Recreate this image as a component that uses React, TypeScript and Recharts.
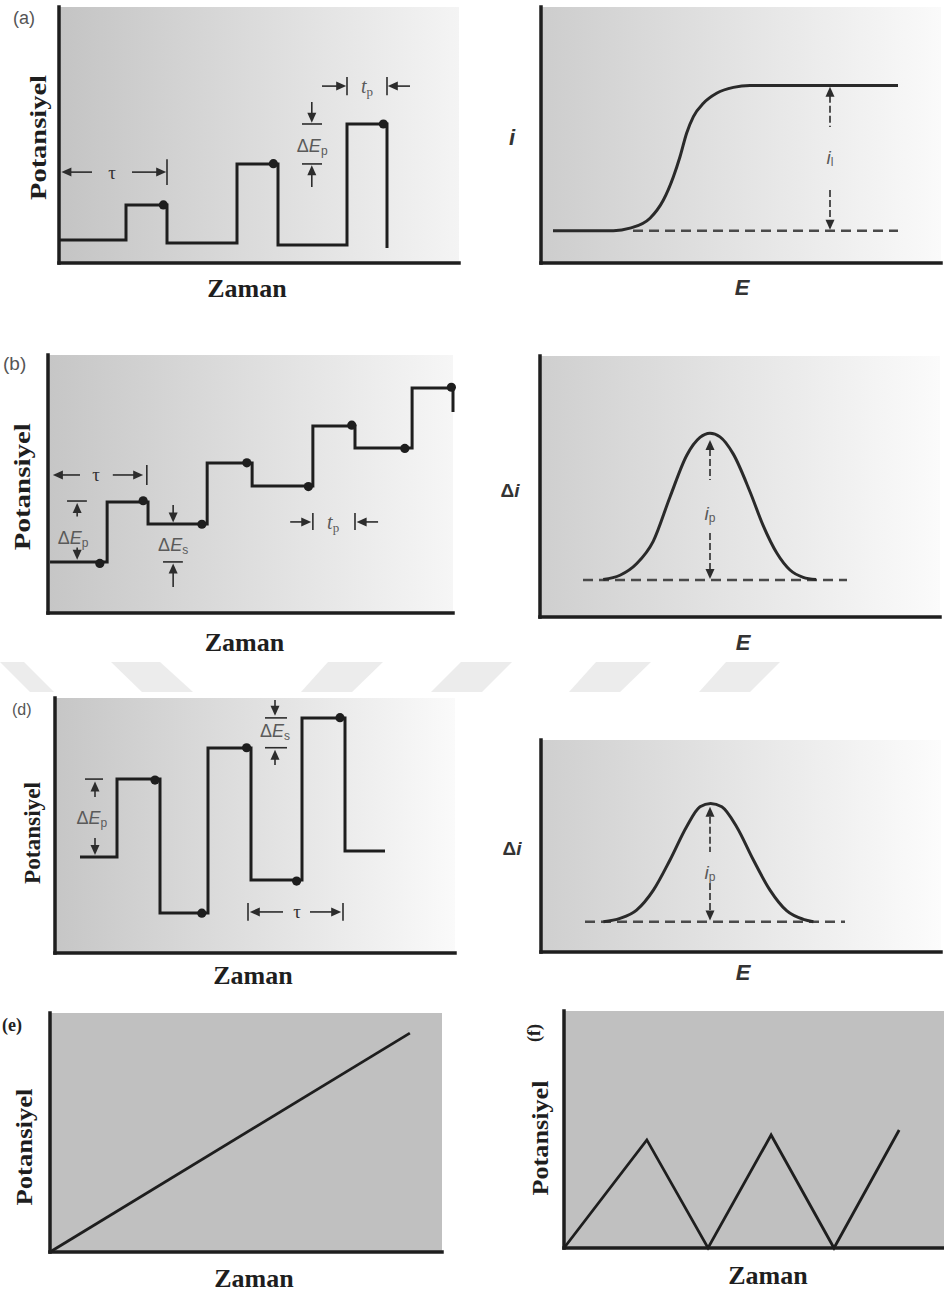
import React from "react";
import { ComposedChart, Line, Scatter, XAxis, YAxis, CartesianGrid, ReferenceLine } from "recharts";

const SERIF = '"Liberation Serif", "Times New Roman", serif';
const SANS = '"Liberation Sans", Arial, sans-serif';
const INK = "#1e1e1e";
const NOTE = "#5a5a5a";
const ARROW = "#2c2c2c";

type Pt = { x: number; y: number };
type Seg = { x1: number; y1: number; x2: number; y2: number };
type Head = Pt & { dir: "up" | "down" | "left" | "right" };
type Note = Pt & { kind: string };

// (a) normal pulse waveform + sampling points
const normalPulse: Pt[] = [
  { x: 0, y: 9 }, { x: 16.75, y: 9 }, { x: 16.75, y: 22.7 }, { x: 27, y: 22.7 }, { x: 27, y: 7.8 },
  { x: 44.5, y: 7.8 }, { x: 44.5, y: 38.7 }, { x: 54.75, y: 38.7 }, { x: 54.75, y: 7 },
  { x: 72, y: 7 }, { x: 72, y: 54.3 }, { x: 82, y: 54.3 }, { x: 82, y: 5.9 },
];
const normalSamples: Pt[] = [{ x: 26.1, y: 22.7 }, { x: 53.6, y: 38.8 }, { x: 81.1, y: 54.3 }];
const normalArrows: Seg[] = [
  { x1: 2.6, y1: 35.5, x2: 8.25, y2: 35.5 },
  { x1: 18.25, y1: 35.5, x2: 24.5, y2: 35.5 },
  { x1: 27, y1: 40.5, x2: 27, y2: 30.5 },
  { x1: 65.75, y1: 69.1, x2: 69.6, y2: 69.1 },
  { x1: 72, y1: 72.7, x2: 72, y2: 65.5 },
  { x1: 82, y1: 72.7, x2: 82, y2: 65.5 },
  { x1: 84.4, y1: 69.1, x2: 87.75, y2: 69.1 },
  { x1: 63.2, y1: 62.9, x2: 63.2, y2: 58.3 },
  { x1: 60.75, y1: 54.3, x2: 65.75, y2: 54.3 },
  { x1: 60.75, y1: 38.7, x2: 65.75, y2: 38.7 },
  { x1: 63.2, y1: 34.7, x2: 63.2, y2: 29.7 },
];
const normalHeads: Head[] = [
  { x: 0.6, y: 35.5, dir: "left" }, { x: 26.8, y: 35.5, dir: "right" },
  { x: 71.8, y: 69.1, dir: "right" }, { x: 82.2, y: 69.1, dir: "left" },
  { x: 63.2, y: 54.8, dir: "down" }, { x: 63.2, y: 38.2, dir: "up" },
];
const normalNotes: Note[] = [
  { x: 13.25, y: 35.5, kind: "tau" }, { x: 77, y: 69.1, kind: "tp" }, { x: 63.3, y: 45.7, kind: "dEp" },
];

// (a) polarogram
const polarogram: Pt[] = [
  { x: 3, y: 12.6 }, { x: 18.1, y: 12.6 }, { x: 22.25, y: 13.6 }, { x: 27.25, y: 17.5 }, { x: 30.6, y: 24.6 },
  { x: 33.1, y: 33.7 }, { x: 34.75, y: 41.5 }, { x: 36.4, y: 50.7 }, { x: 38.1, y: 57.2 }, { x: 40.6, y: 62.4 },
  { x: 43.9, y: 66.3 }, { x: 48.1, y: 68.6 }, { x: 52.25, y: 69.3 }, { x: 89.25, y: 69.3 },
];
const polarBase: Pt[] = [{ x: 23, y: 12.6 }, { x: 89.25, y: 12.6 }];
const polarArrows: Seg[] = [
  { x1: 72.25, y1: 65.3, x2: 72.25, y2: 53.1 },
  { x1: 72.25, y1: 28.5, x2: 72.25, y2: 16.5 },
];
const polarHeads: Head[] = [{ x: 72.25, y: 68.8, dir: "up" }, { x: 72.25, y: 13, dir: "down" }];
const polarNotes: Note[] = [{ x: 72.25, y: 41.4, kind: "il" }];

// (b) differential pulse staircase
const diffPulse: Pt[] = [
  { x: 0.5, y: 19.8 }, { x: 14.6, y: 19.8 }, { x: 14.6, y: 43 }, { x: 24.7, y: 43 }, { x: 24.7, y: 34.5 },
  { x: 39.3, y: 34.5 }, { x: 39.3, y: 58.1 }, { x: 50.4, y: 58.1 }, { x: 50.4, y: 49.2 }, { x: 65.4, y: 49.2 },
  { x: 65.4, y: 72.5 }, { x: 75.8, y: 72.5 }, { x: 75.8, y: 64 }, { x: 89.9, y: 64 }, { x: 89.9, y: 87.2 },
  { x: 100, y: 87.2 }, { x: 100, y: 77.9 },
];
const diffSamples: Pt[] = [
  { x: 12.8, y: 19.2 }, { x: 23.5, y: 43.5 }, { x: 38, y: 34.4 }, { x: 49.1, y: 58.2 },
  { x: 64.3, y: 49 }, { x: 75, y: 72.8 }, { x: 88.1, y: 63.8 }, { x: 99.6, y: 87.5 },
];
const diffArrows: Seg[] = [
  { x1: 3.4, y1: 53.5, x2: 7.9, y2: 53.5 },
  { x1: 16, y1: 53.5, x2: 21.3, y2: 53.5 },
  { x1: 24.4, y1: 57.4, x2: 24.4, y2: 49.6 },
  { x1: 4.7, y1: 43.4, x2: 9.6, y2: 43.4 },
  { x1: 7.2, y1: 39.1, x2: 7.2, y2: 37.4 },
  { x1: 7.2, y1: 24.1, x2: 7.2, y2: 25.4 },
  { x1: 30.9, y1: 38.6, x2: 30.9, y2: 41.9 },
  { x1: 28.4, y1: 19.8, x2: 33.3, y2: 19.8 },
  { x1: 30.9, y1: 15.7, x2: 30.9, y2: 10.1 },
  { x1: 59.8, y1: 35.3, x2: 62.8, y2: 35.3 },
  { x1: 65.4, y1: 38.8, x2: 65.4, y2: 32.2 },
  { x1: 75.8, y1: 38.8, x2: 75.8, y2: 32.2 },
  { x1: 78.4, y1: 35.3, x2: 81.5, y2: 35.3 },
];
const diffHeads: Head[] = [
  { x: 1.2, y: 53.5, dir: "left" }, { x: 23.5, y: 53.5, dir: "right" },
  { x: 7.2, y: 42.6, dir: "up" }, { x: 7.2, y: 20.6, dir: "down" },
  { x: 30.9, y: 35.1, dir: "down" }, { x: 30.9, y: 19.2, dir: "up" },
  { x: 65, y: 35.3, dir: "right" }, { x: 76.2, y: 35.3, dir: "left" },
];
const diffNotes: Note[] = [
  { x: 11.9, y: 53.5, kind: "tau" }, { x: 6.2, y: 29, kind: "dEp" },
  { x: 30.9, y: 26.4, kind: "dEs" }, { x: 70.4, y: 35.3, kind: "tp" },
];

// (b) differential pulse peak
const dpvPeak: Pt[] = [
  { x: 15.8, y: 14.4 }, { x: 20, y: 16 }, { x: 24.2, y: 20.5 }, { x: 28.3, y: 29 }, { x: 32.5, y: 46 },
  { x: 36.7, y: 62 }, { x: 40, y: 68.8 }, { x: 42.5, y: 70.4 }, { x: 45, y: 69 }, { x: 48.3, y: 62.5 },
  { x: 52.5, y: 48 }, { x: 55.8, y: 35 }, { x: 59.2, y: 24.5 }, { x: 62.5, y: 18 }, { x: 65.8, y: 15.2 },
  { x: 69, y: 14.4 },
];
const dpvBase: Pt[] = [{ x: 10.75, y: 14.2 }, { x: 76.75, y: 14.2 }];
const dpvArrows: Seg[] = [
  { x1: 42.5, y1: 64.4, x2: 42.5, y2: 52.5 },
  { x1: 42.5, y1: 32.2, x2: 42.5, y2: 18.4 },
];
const dpvHeads: Head[] = [{ x: 42.5, y: 67.8, dir: "up" }, { x: 42.5, y: 14.6, dir: "down" }];
const dpvNotes: Note[] = [{ x: 42.5, y: 39.8, kind: "ip" }];

// (d) square wave
const squareWave: Pt[] = [
  { x: 6.25, y: 37.6 }, { x: 15.5, y: 37.6 }, { x: 15.5, y: 68.2 }, { x: 26.25, y: 68.2 }, { x: 26.25, y: 15.7 },
  { x: 38.25, y: 15.7 }, { x: 38.25, y: 80.4 }, { x: 49, y: 80.4 }, { x: 49, y: 28.6 }, { x: 61.75, y: 28.6 },
  { x: 61.75, y: 92.2 }, { x: 72.5, y: 92.2 }, { x: 72.5, y: 40 }, { x: 82.5, y: 40 },
];
const squareSamples: Pt[] = [
  { x: 25, y: 67.8 }, { x: 36.7, y: 15.6 }, { x: 47.9, y: 80.5 }, { x: 60.4, y: 28.2 }, { x: 71.25, y: 92.3 },
];
const squareArrows: Seg[] = [
  { x1: 7.5, y1: 68.2, x2: 12, y2: 68.2 },
  { x1: 10, y1: 63.8, x2: 10, y2: 61.2 },
  { x1: 10, y1: 45.1, x2: 10, y2: 41.9 },
  { x1: 55, y1: 99.2, x2: 55, y2: 96.5 },
  { x1: 52.5, y1: 92.2, x2: 58, y2: 92.2 },
  { x1: 52.5, y1: 80.5, x2: 58, y2: 80.5 },
  { x1: 55, y1: 76.2, x2: 55, y2: 73.7 },
  { x1: 48.25, y1: 19.6, x2: 48.25, y2: 12.6 },
  { x1: 72, y1: 19.6, x2: 72, y2: 12.6 },
  { x1: 50.95, y1: 16.1, x2: 57, y2: 16.1 },
  { x1: 63.75, y1: 16.1, x2: 69.3, y2: 16.1 },
];
const squareHeads: Head[] = [
  { x: 10, y: 67.3, dir: "up" }, { x: 10, y: 38.4, dir: "down" },
  { x: 55, y: 93, dir: "down" }, { x: 55, y: 79.7, dir: "up" },
  { x: 48.7, y: 16.1, dir: "left" }, { x: 71.55, y: 16.1, dir: "right" },
];
const squareNotes: Note[] = [
  { x: 9.2, y: 52.9, kind: "dEp" }, { x: 55, y: 87.2, kind: "dEs" }, { x: 60.5, y: 16.1, kind: "tau" },
];

// (d) square wave peak
const swvPeak: Pt[] = [
  { x: 15.6, y: 14.3 }, { x: 19.75, y: 15.9 }, { x: 23.9, y: 19.8 }, { x: 28.1, y: 29.2 }, { x: 32.25, y: 43.4 },
  { x: 36.4, y: 59.1 }, { x: 39.75, y: 68.5 }, { x: 42.4, y: 70.1 }, { x: 45.2, y: 68.5 }, { x: 48.9, y: 59.1 },
  { x: 53.1, y: 43.4 }, { x: 57.25, y: 29.2 }, { x: 61.4, y: 19.5 }, { x: 65.6, y: 15.4 }, { x: 68.1, y: 14.3 },
];
const swvBase: Pt[] = [{ x: 11, y: 14.3 }, { x: 76, y: 14.3 }];
const swvArrows: Seg[] = [
  { x1: 42.25, y1: 63.8, x2: 42.25, y2: 47.2 },
  { x1: 42.25, y1: 32.5, x2: 42.25, y2: 19.8 },
];
const swvHeads: Head[] = [{ x: 42.25, y: 68.5, dir: "up" }, { x: 42.25, y: 14.8, dir: "down" }];
const swvNotes: Note[] = [{ x: 42.25, y: 37.7, kind: "ip" }];

// (e) linear sweep, (f) cyclic sweep
const linearRamp: Pt[] = [{ x: 0, y: 0 }, { x: 91.8, y: 91.6 }];
const cyclicRamp: Pt[] = [
  { x: 0, y: 0 }, { x: 21.8, y: 45.6 }, { x: 37.9, y: 0 }, { x: 54.5, y: 47.7 }, { x: 71.05, y: 0 }, { x: 88.2, y: 49.8 },
];

const WATERMARK = [
  "0,0 24,0 54,30 30,30", "111,0 160,0 193,30 142,30", "328,0 383,0 352,30 301,30",
  "461,0 512,0 482,30 431,30", "596,0 651,0 620,30 569,30", "726,0 780,0 750,30 699,30",
];

const AXIS_LINE = { stroke: INK, strokeWidth: 3.5, strokeLinecap: "square" as const };

type Draw = (x: number, y: number) => React.ReactElement;
const atY = (draw: Draw, cx: number, dy: number) => (p: any) => {
  const vb = p?.viewBox ?? { x: 0, y: 0, width: 0, height: 0 };
  return draw(vb.x + cx, vb.y + vb.height / 2 + dy);
};
const atX = (draw: Draw, dx: number, dy: number) => (p: any) => {
  const vb = p?.viewBox ?? { x: 0, y: 0, width: 0, height: 0 };
  return draw(vb.x + vb.width / 2 + dx, vb.y + dy);
};

const potansiyel = (len: number): Draw => (x, y) => (
  <text x={x} y={y} transform={`rotate(-90 ${x} ${y})`} textAnchor="middle" dominantBaseline="central"
    fontFamily={SERIF} fontWeight="bold" fontSize={24} fill={INK} textLength={len} lengthAdjust="spacingAndGlyphs">
    Potansiyel
  </text>
);
const zaman: Draw = (x, y) => (
  <text x={x} y={y} textAnchor="middle" dominantBaseline="central" fontFamily={SERIF} fontWeight="bold" fontSize={26} fill={INK}>
    Zaman
  </text>
);
const eTitle: Draw = (x, y) => (
  <text x={x} y={y} textAnchor="middle" dominantBaseline="central" fontFamily={SANS} fontStyle="italic" fontWeight="bold" fontSize={22} fill="#333">
    E
  </text>
);
const iTitle: Draw = (x, y) => (
  <text x={x} y={y} textAnchor="middle" dominantBaseline="central" fontFamily={SANS} fontStyle="italic" fontWeight="bold" fontSize={22} fill="#333">
    i
  </text>
);
const diTitle: Draw = (x, y) => (
  <text x={x} y={y} textAnchor="middle" dominantBaseline="central" fontFamily={SANS} fontWeight="bold" fontSize={19} fill="#333">
    Δ<tspan fontStyle="italic" fill="#333">i</tspan>
  </text>
);

const arrowHead = (p: any) => {
  const cx = p.cx, cy = p.cy;
  const dir = p.payload?.dir ?? p.dir;
  const L = 10, W = 4.5;
  const pts =
    dir === "up" ? [[cx, cy], [cx - W, cy + L], [cx + W, cy + L]]
    : dir === "down" ? [[cx, cy], [cx - W, cy - L], [cx + W, cy - L]]
    : dir === "left" ? [[cx, cy], [cx + L, cy - W], [cx + L, cy + W]]
    : [[cx, cy], [cx - L, cy - W], [cx - L, cy + W]];
  return <polygon points={pts.map((q) => q.join(",")).join(" ")} fill={ARROW} />;
};

const sampleDot = (p: any) => <circle cx={p.cx} cy={p.cy} r={4.6} fill={INK} />;

const noteText = (p: any) => {
  const kind = p.payload?.kind ?? p.kind;
  const base = { x: p.cx, y: p.cy, textAnchor: "middle" as const, dominantBaseline: "central" as const, fill: NOTE };
  switch (kind) {
    case "tau":
      return <text {...base} fontFamily={SERIF} fontSize={19} fill="#333">τ</text>;
    case "tp":
      return (
        <text {...base} fontFamily={SERIF} fontSize={20} fontStyle="italic">
          t<tspan fontSize={13} dy={5} fontStyle="normal" fill={NOTE}>p</tspan>
        </text>
      );
    case "dEp":
    case "dEs":
      return (
        <text {...base} fontFamily={SANS} fontSize={18}>
          Δ<tspan fontStyle="italic" fill={NOTE}>E</tspan>
          <tspan fontSize={12} dy={5} fill={NOTE}>{kind === "dEp" ? "p" : "s"}</tspan>
        </text>
      );
    default:
      return (
        <text {...base} fontFamily={SANS} fontSize={19}>
          <tspan fontStyle="italic" fill={NOTE}>i</tspan>
          <tspan fontSize={12} dy={5} fill={NOTE}>{kind === "ip" ? "p" : "l"}</tspan>
        </text>
      );
  }
};

const drawSegs = (segs: Seg[], key: string, dash?: string) =>
  segs.map((s, i) => (
    <ReferenceLine key={`${key}${i}`} segment={[{ x: s.x1, y: s.y1 }, { x: s.x2, y: s.y2 }]}
      stroke={ARROW} strokeWidth={1.6} strokeDasharray={dash} ifOverflow="visible" />
  ));

type FrameProps = {
  id: string; left: number; top: number; width: number; height: number;
  margin: { top: number; right: number; bottom: number; left: number };
  yWidth: number; xHeight: number; grad?: [string, string]; fill?: string;
  xLabel: any; yLabel: any; children: React.ReactNode;
};

function Frame(p: FrameProps) {
  const bg = p.grad ? `url(#${p.id})` : p.fill;
  return (
    <div style={{ position: "absolute", left: p.left, top: p.top }}>
      <ComposedChart width={p.width} height={p.height} margin={p.margin}>
        {p.grad && (
          <defs>
            <linearGradient id={p.id} x1="0" y1="0" x2="1" y2="0">
              <stop offset="0" stopColor={p.grad[0]} />
              <stop offset="1" stopColor={p.grad[1]} />
            </linearGradient>
          </defs>
        )}
        <CartesianGrid horizontal={false} vertical={false} fill={bg} fillOpacity={1} stroke="none" />
        <XAxis type="number" dataKey="x" domain={[0, 100]} tick={false} tickLine={false} axisLine={AXIS_LINE}
          height={p.xHeight} label={p.xLabel} />
        <YAxis type="number" domain={[0, 100]} tick={false} tickLine={false} axisLine={AXIS_LINE}
          width={p.yWidth} label={p.yLabel} />
        {p.children}
      </ComposedChart>
    </div>
  );
}

const letter = (text: string, left: number, top: number, size: number, bold: boolean, rotate = false) => (
  <div style={{
    position: "absolute", left, top, width: 34, height: size + 2, lineHeight: `${size + 2}px`,
    textAlign: "left", fontSize: size, fontFamily: bold ? SERIF : SANS, fontWeight: bold ? "bold" : "normal",
    color: bold ? "#222" : "#555", transform: rotate ? "rotate(-90deg)" : undefined,
  }}>{text}</div>
);

export default function App() {
  return (
    <div style={{ position: "absolute", left: 0, top: 0, width: 944, height: 1292, background: "#fff", overflow: "hidden" }}>
      <svg width={944} height={30} style={{ position: "absolute", left: 0, top: 662 }}>
        {WATERMARK.map((pts, i) => <polygon key={i} points={pts} fill="#ececec" />)}
      </svg>

      {/* (a) normal pulse */}
      <Frame id="gA" left={0} top={0} width={470} height={310} margin={{ top: 7, right: 11, bottom: 0, left: 0 }}
        yWidth={59} xHeight={47} grad={["#c4c4c4", "#f4f4f4"]}
        xLabel={atX(zaman, -12, 25)} yLabel={atY(potansiyel(125), 38, 2.5)}>
        <Line data={normalPulse} dataKey="y" type="linear" stroke={INK} strokeWidth={3} dot={false} activeDot={false} isAnimationActive={false} />
        <Scatter data={normalSamples} dataKey="y" shape={sampleDot} isAnimationActive={false} />
        {drawSegs(normalArrows, "na")}
        <Scatter data={normalHeads} dataKey="y" shape={arrowHead} isAnimationActive={false} />
        <Scatter data={normalNotes} dataKey="y" shape={noteText} isAnimationActive={false} />
      </Frame>

      <Frame id="gAR" left={470} top={0} width={474} height={310} margin={{ top: 7, right: 3, bottom: 0, left: 0 }}
        yWidth={71} xHeight={47} grad={["#cdcdcd", "#fafafa"]}
        xLabel={atX(eTitle, 1, 24)} yLabel={atY(iTitle, 42, 2)}>
        <Line data={polarBase} dataKey="y" type="linear" stroke="#4a4a4a" strokeWidth={2.5} strokeDasharray="10 6" dot={false} activeDot={false} isAnimationActive={false} />
        <Line data={polarogram} dataKey="y" type="monotone" stroke="#2a2a2a" strokeWidth={3} dot={false} activeDot={false} isAnimationActive={false} />
        {drawSegs(polarArrows, "pa", "7 3")}
        <Scatter data={polarHeads} dataKey="y" shape={arrowHead} isAnimationActive={false} />
        <Scatter data={polarNotes} dataKey="y" shape={noteText} isAnimationActive={false} />
      </Frame>

      {/* (b) differential pulse */}
      <Frame id="gB" left={0} top={340} width={470} height={320} margin={{ top: 15, right: 17, bottom: 0, left: 0 }}
        yWidth={48} xHeight={47} grad={["#c6c6c6", "#f6f6f6"]}
        xLabel={atX(zaman, -6, 29)} yLabel={atY(potansiyel(127), 22, 2.7)}>
        <Line data={diffPulse} dataKey="y" type="linear" stroke={INK} strokeWidth={3} dot={false} activeDot={false} isAnimationActive={false} />
        <Scatter data={diffSamples} dataKey="y" shape={sampleDot} isAnimationActive={false} />
        {drawSegs(diffArrows, "da")}
        <Scatter data={diffHeads} dataKey="y" shape={arrowHead} isAnimationActive={false} />
        <Scatter data={diffNotes} dataKey="y" shape={noteText} isAnimationActive={false} />
      </Frame>

      <Frame id="gBR" left={470} top={340} width={474} height={320} margin={{ top: 16, right: 4, bottom: 0, left: 0 }}
        yWidth={70} xHeight={43} grad={["#cfcfcf", "#fbfbfb"]}
        xLabel={atX(eTitle, 3, 25)} yLabel={atY(diTitle, 40, 3.5)}>
        <Line data={dpvBase} dataKey="y" type="linear" stroke="#4a4a4a" strokeWidth={2.5} strokeDasharray="10 6" dot={false} activeDot={false} isAnimationActive={false} />
        <Line data={dpvPeak} dataKey="y" type="monotone" stroke="#2a2a2a" strokeWidth={3} dot={false} activeDot={false} isAnimationActive={false} />
        {drawSegs(dpvArrows, "pb", "7 3")}
        <Scatter data={dpvHeads} dataKey="y" shape={arrowHead} isAnimationActive={false} />
        <Scatter data={dpvNotes} dataKey="y" shape={noteText} isAnimationActive={false} />
      </Frame>

      {/* (d) square wave */}
      <Frame id="gD" left={0} top={690} width={470} height={300} margin={{ top: 8, right: 15, bottom: 0, left: 0 }}
        yWidth={55} xHeight={37} grad={["#c6c6c6", "#fafafa"]}
        xLabel={atX(zaman, -2, 22)} yLabel={atY(potansiyel(102), 32, 7.5)}>
        <Line data={squareWave} dataKey="y" type="linear" stroke={INK} strokeWidth={3} dot={false} activeDot={false} isAnimationActive={false} />
        <Scatter data={squareSamples} dataKey="y" shape={sampleDot} isAnimationActive={false} />
        {drawSegs(squareArrows, "sa")}
        <Scatter data={squareHeads} dataKey="y" shape={arrowHead} isAnimationActive={false} />
        <Scatter data={squareNotes} dataKey="y" shape={noteText} isAnimationActive={false} />
      </Frame>

      <Frame id="gDR" left={470} top={700} width={474} height={290} margin={{ top: 40, right: 3, bottom: 0, left: 0 }}
        yWidth={71} xHeight={38} grad={["#cfcfcf", "#fcfcfc"]}
        xLabel={atX(eTitle, 2, 20)} yLabel={atY(diTitle, 42, 2)}>
        <Line data={swvBase} dataKey="y" type="linear" stroke="#4a4a4a" strokeWidth={2.5} strokeDasharray="10 6" dot={false} activeDot={false} isAnimationActive={false} />
        <Line data={swvPeak} dataKey="y" type="monotone" stroke="#2a2a2a" strokeWidth={3} dot={false} activeDot={false} isAnimationActive={false} />
        {drawSegs(swvArrows, "pd", "7 3")}
        <Scatter data={swvHeads} dataKey="y" shape={arrowHead} isAnimationActive={false} />
        <Scatter data={swvNotes} dataKey="y" shape={noteText} isAnimationActive={false} />
      </Frame>

      {/* (e) linear sweep */}
      <Frame id="gE" left={0} top={995} width={470} height={297} margin={{ top: 18, right: 28, bottom: 0, left: 0 }}
        yWidth={50} xHeight={40} fill="#c0c0c0"
        xLabel={atX(zaman, 8, 26)} yLabel={atY(potansiyel(117), 24, 14.5)}>
        <Line data={linearRamp} dataKey="y" type="linear" stroke={INK} strokeWidth={2.8} dot={false} activeDot={false} isAnimationActive={false} />
      </Frame>

      {/* (f) cyclic sweep */}
      <Frame id="gF" left={470} top={995} width={474} height={297} margin={{ top: 16, right: 0, bottom: 0, left: 0 }}
        yWidth={94} xHeight={44} fill="#c0c0c0"
        xLabel={atX(zaman, 14, 27)} yLabel={atY(potansiyel(115), 70, 8.5)}>
        <Line data={cyclicRamp} dataKey="y" type="linear" stroke={INK} strokeWidth={2.8} dot={false} activeDot={false} isAnimationActive={false} />
      </Frame>

      {letter("(a)", 13, 8, 18, false)}
      {letter("(b)", 3, 353, 19, false)}
      {letter("(d)", 12, 701, 16, false)}
      {letter("(e)", 2, 1015, 18, true)}
      {letter("(f)", 517, 1015, 18, true, true)}
    </div>
  );
}
